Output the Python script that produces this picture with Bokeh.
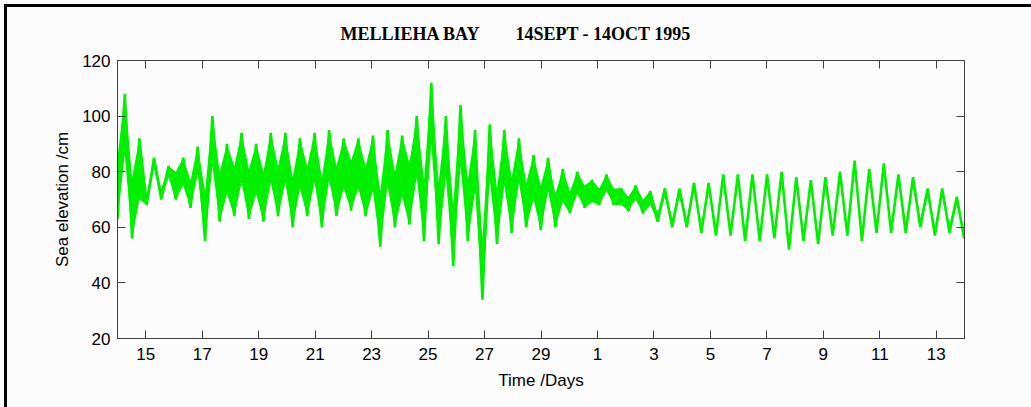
import numpy as np
from bokeh.plotting import figure
from bokeh.models import FixedTicker, LinearAxis, Range1d, ColumnDataSource
from bokeh.embed import file_html
from bokeh.resources import INLINE

# ---- data ----
# Tidal record: successive extremes (trough, peak, trough, ...) of the sea
# elevation (cm), one every half tidal cycle, starting 14 Sept 00:00.
half_cycle_days = 0.2585
elevation_extremes = [
    63, 108, 56, 92, 68, 85, 70, 82, 70, 85,
    67, 89, 55, 100, 62, 90, 64, 94, 63, 90,
    62, 94, 64, 94, 60, 92, 64, 94, 60, 95,
    64, 92, 66, 92, 64, 93, 53, 95, 60, 93,
    61, 100, 55, 112, 54, 100, 46, 104, 55, 95,
    34, 97, 54, 95, 58, 92, 60, 86, 59, 85,
    60, 81, 65, 80, 67, 77, 68, 79, 68, 74,
    66, 75, 65, 73, 62, 74, 60, 74, 60, 76,
    58, 76, 57, 79, 57, 79, 55, 79, 55, 79,
    56, 80, 52, 78, 55, 77, 54, 78, 57, 80,
    57, 84, 55, 81, 58, 83, 58, 79, 58, 78,
    60, 74, 57, 74, 58, 71, 56,
]
# half-width (cm) of the high-frequency (seiche) band, per day
noise_half_width_by_day = [
    11, 2, 5, 9, 9, 9, 9, 9, 9, 10,
    11, 11, 11, 10, 8, 6, 4, 3, 2.5, 1.6,
    1.6, 1.6, 1.6, 1.6, 1.6, 1.6, 1.6, 1.6, 1.6, 1.6,
]
x_tick_days = [1, 3, 5, 7, 9, 11, 13, 15, 17, 19, 21, 23, 25, 27, 29]
x_tick_labels = ["15", "17", "19", "21", "23", "25", "27", "29",
                 "1", "3", "5", "7", "9", "11", "13"]
y_ticks = [20, 40, 60, 80, 100, 120]
title_text = "MELLIEHA BAY" + "\u00a0" * 8 + "14SEPT - 14OCT 1995"

# ---- build sources ----
t = np.arange(len(elevation_extremes)) * half_cycle_days
v = np.array(elevation_extremes, dtype=float)
w = np.array([noise_half_width_by_day[min(int(d), 29)] for d in t])
is_peak = (np.arange(len(v)) % 2) == 1
top = np.where(is_peak, v, v + 2 * w)
bot = np.where(is_peak, v - 2 * w, v)
src = ColumnDataSource(dict(t=t, v=v, top=top, bot=bot))

BG = "#fdfcfd"
AX = "#404040"
GREEN = "#00f000"

p = figure(width=1031, height=407, output_backend="svg", toolbar_location=None,
           x_range=Range1d(0, 30), y_range=Range1d(20, 120),
           min_border_left=117, min_border_right=67,
           min_border_top=60, min_border_bottom=69)
p.styles = {"background-color": BG,
            "box-shadow": f"inset 4px 4px 0 0 {BG}, inset 7px 7px 0 0 black"}
p.background_fill_color = BG
p.border_fill_color = BG
p.border_fill_alpha = 0.0
p.outline_line_color = AX
p.outline_line_width = 1
p.xgrid.visible = False
p.ygrid.visible = False

p.varea(x="t", y1="bot", y2="top", source=src, fill_color=GREEN, fill_alpha=1.0)
p.line(x="t", y="v", source=src, line_color=GREEN, line_width=2.6)

label_font = "Liberation Sans"


def style_axis(ax):
    ax.major_tick_in = 8
    ax.major_tick_out = 0
    ax.minor_tick_line_color = None
    ax.major_tick_line_color = AX
    ax.axis_line_color = AX
    ax.major_label_text_font = label_font
    ax.major_label_text_color = "black"
    ax.major_label_text_font_size = "17px"


p.xaxis.ticker = FixedTicker(ticks=x_tick_days)
p.xaxis.major_label_overrides = {d: s for d, s in zip(x_tick_days, x_tick_labels)}
p.yaxis.ticker = FixedTicker(ticks=y_ticks)
style_axis(p.xaxis[0])
style_axis(p.yaxis[0])
p.xaxis.major_label_standoff = 9
p.yaxis.major_label_standoff = 7

p.xaxis.axis_label = "Time /Days"
p.yaxis.axis_label = "Sea elevation /cm"
for ax in (p.xaxis[0], p.yaxis[0]):
    ax.axis_label_text_font = label_font
    ax.axis_label_text_font_size = "17px"
    ax.axis_label_text_font_style = "normal"
    ax.axis_label_text_color = "black"
p.xaxis.axis_label_standoff = 8
p.yaxis.axis_label_standoff = 7

top_ax = LinearAxis(ticker=FixedTicker(ticks=x_tick_days),
                    major_label_overrides={d: "" for d in x_tick_days})
right_ax = LinearAxis(ticker=FixedTicker(ticks=y_ticks),
                      major_label_overrides={d: "" for d in y_ticks})
style_axis(top_ax)
style_axis(right_ax)
top_ax.major_label_standoff = 0
right_ax.major_label_standoff = 0
p.add_layout(top_ax, "above")
p.add_layout(right_ax, "right")

p.title.text = title_text
p.title.align = "left"
p.title.offset = 223
p.title.text_font = "Liberation Serif"
p.title.text_font_size = "18px"
p.title.text_font_style = "bold"
p.title.text_color = "black"
p.title.standoff = 33

open("out.html", "w").write(file_html(p, INLINE))
